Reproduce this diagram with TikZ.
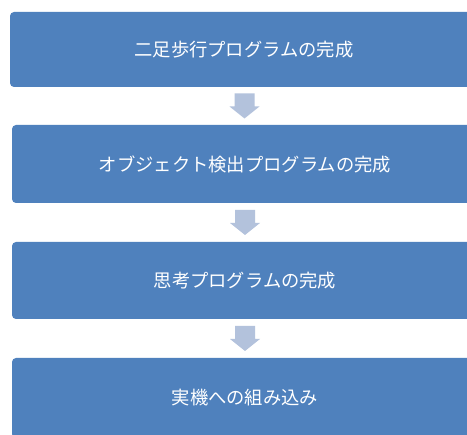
\documentclass[tikz,border=0pt]{standalone}
\usepackage{fontspec}
\newfontfamily\jpfont{Noto Sans CJK JP}
\usetikzlibrary{calc}
\definecolor{boxblue}{HTML}{4F81BD}
\definecolor{arrowblue}{HTML}{B3C2DC}
\tikzset{
  stage/.style={rectangle, rounded corners=4pt, fill=boxblue, draw=none,
    text=white, font=\jpfont\fontsize{18.3}{22}\selectfont,
    minimum width=468pt, inner sep=0pt},
}
\begin{document}
\begin{tikzpicture}[x=1pt, y=-1pt]
\path[use as bounding box, clip] (0,0) rectangle (467,435);
\fill[white] (0,0) rectangle (467,435);
\node[stage, minimum height=75pt] (b1) at (244,49.5) {二足歩行プログラムの完成};
\node[stage, minimum height=78pt, minimum width=466pt] (b2) at (245,164) {オブジェクト検出プログラムの完成};
\node[stage, minimum height=77pt, minimum width=466pt] (b3) at (245,280.5) {思考プログラムの完成};
\node[stage, minimum height=80pt, minimum width=466pt] (b4) at (245,398) {実機への組み込み};
\foreach \a/\b/\m in {b1/b2/m1, b2/b3/m2, b3/b4/m3}{
  \coordinate (\m) at ($(\a.south)!0.5!(\b.north)$);
  \fill[arrowblue] ([shift={(-10,-12.5)}]\m) -- ([shift={(10,-12.5)}]\m)
    -- ([shift={(10,0.5)}]\m) -- ([shift={(15,0.5)}]\m)
    -- ([shift={(0,12.5)}]\m) -- ([shift={(-15,0.5)}]\m)
    -- ([shift={(-10,0.5)}]\m) -- cycle;
}
\end{tikzpicture}
\end{document}
